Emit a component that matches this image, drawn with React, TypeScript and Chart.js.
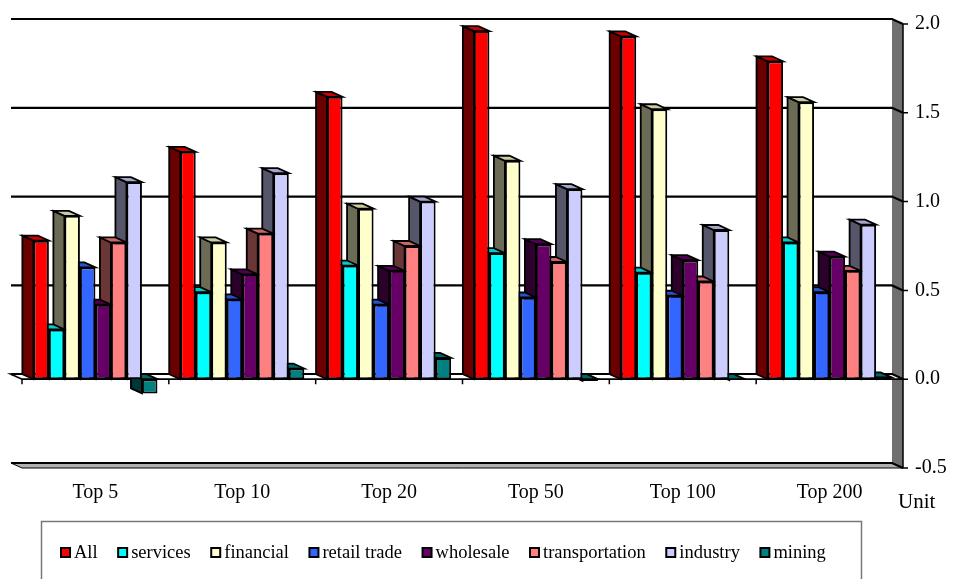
import React, { useEffect, useRef } from "react";
import { Chart, registerables } from "chart.js";

Chart.register(...registerables);

// Categories (firm-size groups) and the eight series plotted for each group
const categories = ["Top 5", "Top 10", "Top 20", "Top 50", "Top 100", "Top 200"];

const allValues = [0.78, 1.28, 1.59, 1.96, 1.93, 1.79];
const servicesValues = [0.28, 0.49, 0.64, 0.71, 0.6, 0.77];
const financialValues = [0.92, 0.77, 0.96, 1.23, 1.52, 1.56];
const retailTradeValues = [0.63, 0.45, 0.42, 0.46, 0.47, 0.49];
const wholesaleValues = [0.42, 0.59, 0.61, 0.76, 0.67, 0.69];
const transportationValues = [0.77, 0.82, 0.75, 0.66, 0.55, 0.61];
const industryValues = [1.11, 1.16, 1.0, 1.07, 0.84, 0.87];
const miningValues = [-0.08, 0.06, 0.12, -0.01, -0.005, 0.01];

const seriesNames = [
  "All",
  "services",
  "financial",
  "retail trade",
  "wholesale",
  "transportation",
  "industry",
  "mining",
];
const seriesValues = [
  allValues,
  servicesValues,
  financialValues,
  retailTradeValues,
  wholesaleValues,
  transportationValues,
  industryValues,
  miningValues,
];
const seriesColors = [
  "#FF0000",
  "#00FFFF",
  "#FFFFCC",
  "#3366FF",
  "#660066",
  "#FF8080",
  "#CCCCFF",
  "#008080",
];

// Value axis settings
const yMin = -0.5;
const yMax = 2.0;
const yStep = 0.5;
const unitLabel = "Unit";

const FONT = "'Liberation Serif', 'Times New Roman', serif";

// Depth of the pseudo-3D projection (back plane is up and to the left)
const DX = -11;
const DY = -5;

function shade(hex: string, k: number): string {
  const n = parseInt(hex.slice(1), 16);
  const r = Math.round(((n >> 16) & 255) * k);
  const g = Math.round(((n >> 8) & 255) * k);
  const b = Math.round((n & 255) * k);
  return `rgb(${r},${g},${b})`;
}

function poly(ctx: CanvasRenderingContext2D, pts: number[][], fill: string | null, stroke: string | null, lw = 1.5) {
  ctx.beginPath();
  ctx.moveTo(pts[0][0], pts[0][1]);
  for (let i = 1; i < pts.length; i++) ctx.lineTo(pts[i][0], pts[i][1]);
  ctx.closePath();
  if (fill) {
    ctx.fillStyle = fill;
    ctx.fill();
  }
  if (stroke) {
    ctx.strokeStyle = stroke;
    ctx.lineWidth = lw;
    ctx.stroke();
  }
}

// Walls, floor, back gridlines and the side/top faces of every column
const depthPlugin = {
  id: "depth3d",
  beforeDatasetsDraw(chart: any) {
    const ctx: CanvasRenderingContext2D = chart.ctx;
    const { left, right, top, bottom } = chart.chartArea;
    const ys = chart.scales.y;
    ctx.save();
    ctx.lineJoin = "miter";

    // right side wall
    poly(ctx, [[right + DX, top + DY], [right, top], [right, bottom], [right + DX, bottom + DY]], "#707070", null);

    // floor at the bottom of the value axis
    const yb = ys.getPixelForValue(yMin);
    poly(ctx, [[left + DX, yb + DY], [right + DX, yb + DY], [right, yb], [left, yb]], "#b0b0b0", "#000", 1);

    // gridlines on the back wall, continuing across the side wall
    ctx.strokeStyle = "#000";
    ctx.lineWidth = 2.2;
    for (let v = yMin; v <= yMax + 1e-9; v += yStep) {
      const py = ys.getPixelForValue(v);
      ctx.beginPath();
      ctx.moveTo(left + DX, py + DY);
      ctx.lineTo(right + DX, py + DY);
      ctx.lineTo(right, py);
      ctx.stroke();
    }

    // front edge of the value axis with tick marks
    ctx.lineWidth = 1.5;
    ctx.beginPath();
    ctx.moveTo(right, top);
    ctx.lineTo(right, bottom);
    for (let v = yMin; v <= yMax + 1e-9; v += yStep) {
      const py = ys.getPixelForValue(v);
      ctx.moveTo(right, py);
      ctx.lineTo(right + 5, py);
    }
    ctx.stroke();

    // floor strip at zero with the category axis line and its ticks
    const y0 = ys.getPixelForValue(0);
    poly(ctx, [[left, y0], [right, y0], [right + DX, y0 + DY], [left + DX, y0 + DY]], "#ffffff", "#000", 1.8);
    ctx.beginPath();
    const n = categories.length;
    for (let i = 0; i < n; i++) {
      const px = left + (i * (right - left)) / n;
      ctx.moveTo(px, y0);
      ctx.lineTo(px, y0 + 5);
    }
    ctx.lineWidth = 1.5;
    ctx.stroke();

    // side and top faces, painted from right to left
    const boxes: any[] = [];
    chart.data.datasets.forEach((ds: any, di: number) => {
      const meta = chart.getDatasetMeta(di);
      meta.data.forEach((el: any) => {
        const L = el.x - el.width / 2;
        const R = el.x + el.width / 2;
        const T = Math.min(el.y, el.base);
        const B = Math.max(el.y, el.base);
        boxes.push({ L, R, T, B, color: seriesColors[di] });
      });
    });
    boxes.sort((a, b) => b.L - a.L);
    for (const bx of boxes) {
      const { L, R, T, B, color } = bx;
      poly(ctx, [[L, T], [L + DX, T + DY], [L + DX, B + DY], [L, B]], shade(color, 0.42), "#000", 1.8);
      poly(ctx, [[L, T], [R, T], [R + DX, T + DY], [L + DX, T + DY]], shade(color, 0.8), "#000", 1.8);
    }
    ctx.restore();
  },
  afterDraw(chart: any) {
    const ctx: CanvasRenderingContext2D = chart.ctx;
    ctx.save();

    // unit caption under the value axis
    ctx.fillStyle = "#000";
    ctx.font = `21px ${FONT}`;
    ctx.textBaseline = "alphabetic";
    ctx.textAlign = "left";
    ctx.fillText(unitLabel, 898, 508);

    // legend box
    ctx.strokeStyle = "#777777";
    ctx.lineWidth = 1.5;
    ctx.strokeRect(41.5, 521.5, 820, 70);

    ctx.font = `18.5px ${FONT}`;
    let x = 60;
    const baseY = 558;
    seriesNames.forEach((name, i) => {
      ctx.fillStyle = "#000";
      ctx.fillRect(x, baseY - 11, 11, 11);
      ctx.fillStyle = seriesColors[i];
      ctx.fillRect(x + 2, baseY - 9, 7, 7);
      ctx.fillStyle = "#000";
      const tx = x + 14;
      ctx.fillText(name, tx, baseY);
      x = tx + ctx.measureText(name).width + 19.5;
    });
    ctx.restore();
  },
};

export default function App() {
  const canvasRef = useRef<HTMLCanvasElement | null>(null);

  useEffect(() => {
    const canvas = canvasRef.current;
    if (!canvas) return;
    const chart = new Chart(canvas, {
      type: "bar",
      data: {
        labels: categories,
        datasets: seriesNames.map((name, i) => ({
          label: name,
          data: seriesValues[i],
          backgroundColor: seriesColors[i],
          borderColor: "#000",
          borderWidth: 2,
          borderSkipped: false,
          categoryPercentage: 0.845,
          barPercentage: 1,
        })),
      },
      options: {
        animation: false,
        responsive: false,
        maintainAspectRatio: false,
        devicePixelRatio: 1,
        layout: { padding: { left: 22, top: 18, right: 0, bottom: 0 } },
        plugins: {
          legend: { display: false },
          tooltip: { enabled: false },
        },
        scales: {
          x: {
            type: "category",
            position: "bottom",
            grid: { display: false, drawTicks: false },
            border: { display: false },
            ticks: {
              color: "#000",
              font: { family: FONT, size: 20 },
              padding: 13,
              maxRotation: 0,
              autoSkip: false,
            },
            afterFit: (s: any) => {
              s.height = 111;
            },
          },
          y: {
            position: "right",
            min: yMin,
            max: yMax,
            grid: { display: false, drawTicks: false },
            border: { display: false },
            ticks: {
              stepSize: yStep,
              color: "#000",
              font: { family: FONT, size: 20 },
              padding: 12,
              callback: (v: any) => Number(v).toFixed(1),
            },
            afterFit: (s: any) => {
              s.width = 50;
            },
          },
        },
      },
      plugins: [depthPlugin],
    } as any);
    return () => chart.destroy();
  }, []);

  return (
    <div style={{ position: "fixed", left: 0, top: 0, width: 953, height: 579, background: "#fff" }}>
      <canvas ref={canvasRef} width={953} height={579} style={{ display: "block" }} />
    </div>
  );
}
